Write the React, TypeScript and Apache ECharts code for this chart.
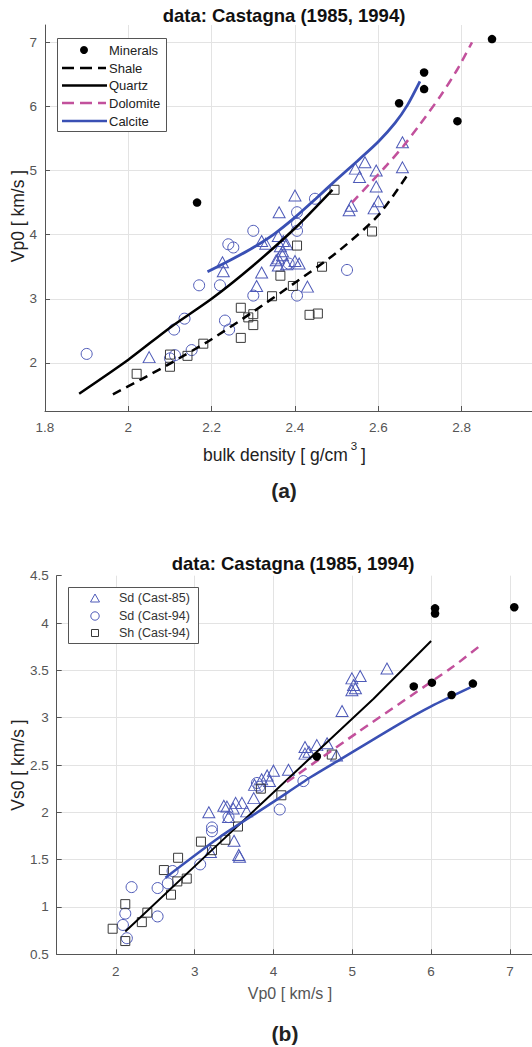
import React, { useEffect, useRef } from "react";
import * as echarts from "echarts";

const FONT = "'Liberation Sans', Arial, Helvetica, sans-serif";
const BLUE_LINE = "#3a50b4";
const BLUE_MARK = "#4e5ab8";
const MAGENTA = "#c2519c";
const SQUARE = "#3a3a3a";

// ---------- (a) Vp0 vs bulk density ----------
const xTicksA = [1.8, 2.0, 2.2, 2.4, 2.6, 2.8];
const yTicksA = [2, 3, 4, 5, 6, 7];

const mineralsA = [[2.165, 4.5], [2.65, 6.05], [2.71, 6.53], [2.71, 6.27], [2.79, 5.77], [2.873, 7.05]];

const sdCast85A = [
  [2.05, 2.09], [2.226, 3.57], [2.228, 3.43], [2.308, 3.2], [2.32, 3.41], [2.32, 3.9], [2.33, 3.86],
  [2.362, 4.35], [2.36, 3.98], [2.365, 3.82], [2.37, 3.68], [2.355, 3.6], [2.36, 3.52], [2.38, 3.54],
  [2.38, 3.85], [2.37, 3.74], [2.36, 3.63], [2.372, 3.9], [2.4, 4.61], [2.4, 3.59], [2.41, 3.55],
  [2.43, 3.19], [2.53, 4.38], [2.535, 4.45], [2.545, 5.03], [2.568, 5.13], [2.555, 4.9],
  [2.595, 5.0], [2.595, 4.75], [2.6, 4.52], [2.59, 4.41], [2.658, 5.44], [2.658, 5.05],
];

const sdCast94A = [
  [1.9, 2.14], [2.1, 2.07], [2.112, 2.12], [2.152, 2.2], [2.11, 2.52], [2.135, 2.69], [2.17, 3.21],
  [2.22, 3.21], [2.232, 2.66], [2.242, 2.52], [2.24, 3.85], [2.252, 3.8], [2.3, 4.06], [2.3, 3.05],
  [2.385, 3.55], [2.405, 4.35], [2.405, 4.17], [2.405, 4.06], [2.405, 3.05], [2.448, 4.56], [2.525, 3.45],
];

const shCast94A = [
  [2.02, 1.83], [2.1, 1.94], [2.1, 2.13], [2.142, 2.11], [2.18, 2.3], [2.27, 2.86], [2.27, 2.39],
  [2.288, 2.71], [2.3, 2.76], [2.3, 2.59], [2.345, 3.04], [2.365, 3.36], [2.395, 3.2], [2.405, 3.83],
  [2.435, 2.75], [2.455, 2.77], [2.465, 3.5], [2.495, 4.7], [2.585, 4.05],
];

const shaleA = [[1.963, 1.51], [2.03, 1.74], [2.1, 1.99], [2.2, 2.37], [2.3, 2.8], [2.4, 3.25], [2.5, 3.72], [2.6, 4.3], [2.675, 4.98]];
const quartzA = [[1.882, 1.52], [2.0, 2.05], [2.1, 2.55], [2.2, 3.0], [2.3, 3.52], [2.4, 4.1], [2.49, 4.7]];
const dolomiteA = [[2.537, 4.5], [2.58, 4.8], [2.62, 5.08], [2.66, 5.38], [2.7, 5.72], [2.75, 6.17], [2.79, 6.58], [2.825, 7.0]];
const calciteA = [[2.19, 3.42], [2.25, 3.62], [2.3, 3.8], [2.35, 4.01], [2.4, 4.27], [2.45, 4.56], [2.5, 4.86], [2.55, 5.15], [2.6, 5.45], [2.64, 5.74], [2.67, 6.02], [2.7, 6.39]];

// ---------- (b) Vs0 vs Vp0 ----------
const xTicksB = [2, 3, 4, 5, 6, 7];
const yTicksB = [0.5, 1, 1.5, 2, 2.5, 3, 3.5, 4, 4.5];

const mineralsB = [[4.55, 2.59], [5.78, 3.33], [6.01, 3.37], [6.26, 3.24], [6.53, 3.36], [6.05, 4.155], [6.05, 4.1], [7.055, 4.167]];

const sdCast85B = [
  [5.44, 3.52], [4.995, 3.415], [5.1, 3.44], [5.016, 3.345], [4.995, 3.29], [5.04, 3.31], [4.87, 3.07],
  [4.4, 2.69], [4.55, 2.71], [4.68, 2.73], [4.4, 2.62], [4.45, 2.64], [4.8, 2.6], [4.19, 2.45], [4.0, 2.44],
  [3.92, 2.39], [3.85, 2.35], [3.95, 2.33], [3.76, 2.29], [3.41, 2.06], [3.52, 2.1], [3.6, 2.1], [3.49, 2.04],
  [3.37, 2.07], [3.18, 2.0], [3.43, 1.95], [3.66, 2.01], [3.75, 2.15], [3.5, 1.7], [3.56, 1.55], [3.57, 1.53], [3.2, 1.58],
];

const sdCast94B = [
  [2.2, 1.21], [2.53, 1.2], [2.66, 1.25], [2.72, 1.38], [2.53, 0.9], [2.12, 0.93], [2.09, 0.81], [2.14, 0.67],
  [3.07, 1.45], [3.22, 1.84], [3.22, 1.8], [3.43, 1.95], [3.79, 2.31], [3.82, 2.27], [4.08, 2.03], [4.38, 2.33],
];

const shCast94B = [
  [1.96, 0.77], [2.12, 1.03], [2.12, 0.64], [2.33, 0.84], [2.4, 0.94], [2.7, 1.13], [2.78, 1.27], [2.79, 1.52],
  [2.9, 1.3], [2.61, 1.39], [3.08, 1.69], [3.22, 1.6], [3.39, 1.71], [3.55, 1.85], [3.84, 2.25], [4.1, 2.18], [4.74, 2.61],
];

const quartzB = [[2.12, 0.74], [3.32, 1.68], [4.5, 2.6], [5.27, 3.2], [6.0, 3.81]];
const dolomiteB = [[4.17, 2.32], [5.06, 2.84], [6.28, 3.54], [6.62, 3.76]];
const calciteB = [[2.63, 1.31], [3.32, 1.74], [4.0, 2.11], [4.47, 2.37], [4.85, 2.56], [5.61, 2.94], [6.0, 3.12], [6.5, 3.32]];

const axisCommon = {
  type: "value",
  axisLine: { show: true, onZero: false, lineStyle: { color: "#555", width: 1 } },
  axisTick: { show: true, inside: true, length: 5, lineStyle: { color: "#555" } },
  splitLine: { show: true, showMinLine: false, showMaxLine: false, lineStyle: { color: "#e3e3e3", width: 1 } },
};
const labelCommon = { color: "#555", fontSize: 13.5, fontFamily: FONT };

function scatter(data: number[][], g: number, symbol: string, size: any, color: string, z = 3) {
  return {
    type: "scatter",
    xAxisIndex: g,
    yAxisIndex: g,
    data,
    symbol,
    symbolSize: size,
    z,
    itemStyle: { color: "rgba(0,0,0,0)", borderColor: color, borderWidth: 1, opacity: 1 },
    emphasis: { disabled: true },
  };
}
function dots(data: number[][], g: number) {
  return {
    type: "scatter", xAxisIndex: g, yAxisIndex: g, data, symbol: "circle", symbolSize: 8.5, z: 6,
    itemStyle: { color: "#000", opacity: 1 }, emphasis: { disabled: true },
  };
}
function line(data: number[][], g: number, color: string, width: number, dashed: boolean, z = 4, smooth: any = 0.25) {
  return {
    type: "line", xAxisIndex: g, yAxisIndex: g, data, showSymbol: false, symbol: "none", z,
    smooth,
    lineStyle: { color, width, type: dashed ? [9, 6] : "solid", cap: "butt" },
    emphasis: { disabled: true },
  };
}

function txt(x: number, y: number, text: string, fontSize: number, fill: string, extra: any = {}) {
  return {
    type: "text", x, y, silent: true,
    style: { text, fontSize, fill, fontFamily: FONT, textAlign: "center", textVerticalAlign: "middle", ...extra },
  };
}

export default function App() {
  const ref = useRef<HTMLDivElement>(null);
  useEffect(() => {
    if (!ref.current) return;
    const chart = echarts.init(ref.current, null, { renderer: "svg" });
    const legendA = [
      { type: "rect", shape: { x: 57.5, y: 38.5, width: 109, height: 93 }, style: { fill: "#fff", stroke: "#555", lineWidth: 1 }, z: 100 },
      { type: "circle", shape: { cx: 84, cy: 50, r: 4 }, style: { fill: "#000" }, z: 101 },
      { type: "line", shape: { x1: 62, y1: 68, x2: 106, y2: 68 }, style: { stroke: "#000", lineWidth: 2.5, lineDash: [12, 6] }, z: 101 },
      { type: "line", shape: { x1: 62, y1: 85.5, x2: 107, y2: 85.5 }, style: { stroke: "#000", lineWidth: 2.5 }, z: 101 },
      { type: "line", shape: { x1: 62, y1: 103, x2: 106, y2: 103 }, style: { stroke: MAGENTA, lineWidth: 2.5, lineDash: [12, 6] }, z: 101 },
      { type: "line", shape: { x1: 62, y1: 121, x2: 107, y2: 121 }, style: { stroke: BLUE_LINE, lineWidth: 2.5 }, z: 101 },
      ...[["Minerals", 50], ["Shale", 68], ["Quartz", 85.5], ["Dolomite", 103], ["Calcite", 121]].map(([t, y]) => ({
        ...txt(109, y as number, t as string, 13, "#222", { textAlign: "left" }), z: 101,
      })),
    ];
    const legendB = [
      { type: "rect", shape: { x: 68.5, y: 587.5, width: 130, height: 56 }, style: { fill: "#fff", stroke: "#555", lineWidth: 1 }, z: 100 },
      { type: "polygon", shape: { points: [[90.5, 602], [99.5, 602], [95, 594]] }, style: { fill: "none", stroke: BLUE_MARK, lineWidth: 1 }, z: 101 },
      { type: "circle", shape: { cx: 95, cy: 616, r: 4.2 }, style: { fill: "none", stroke: BLUE_MARK, lineWidth: 1 }, z: 101 },
      { type: "rect", shape: { x: 91.5, y: 629.5, width: 7, height: 7 }, style: { fill: "none", stroke: SQUARE, lineWidth: 1 }, z: 101 },
      ...[["Sd (Cast-85)", 598], ["Sd (Cast-94)", 616], ["Sh (Cast-94)", 633]].map(([t, y]) => ({
        ...txt(119, y as number, t as string, 12.5, "#333", { textAlign: "left" }), z: 101,
      })),
    ];
    const option: any = {
      animation: false,
      textStyle: { fontFamily: FONT },
      grid: [
        { left: 45, top: 25, width: 487, height: 386 },
        { left: 56.7, top: 575.7, width: 475.3, height: 378.6 },
      ],
      xAxis: [
        { ...axisCommon, gridIndex: 0, min: xTicksA[0], max: 2.969, interval: 0.2,
          axisLabel: { ...labelCommon, margin: 9, showMinLabel: true, showMaxLabel: false } },
        { ...axisCommon, gridIndex: 1, min: 1.25, max: 7.28, minInterval: 1, maxInterval: 1,
          axisLabel: { ...labelCommon, margin: 10, showMinLabel: false, showMaxLabel: false } },
      ],
      yAxis: [
        { ...axisCommon, gridIndex: 0, min: 1.25, max: 7.27, minInterval: 1, maxInterval: 1,
          axisLabel: { ...labelCommon, margin: 8, showMinLabel: false, showMaxLabel: false } },
        { ...axisCommon, gridIndex: 1, min: yTicksB[0], max: yTicksB[yTicksB.length - 1], interval: 0.5,
          axisLabel: { ...labelCommon, margin: 8, showMinLabel: true, showMaxLabel: true } },
      ],
      series: [
        scatter(sdCast85A, 0, "triangle", [12, 11], BLUE_MARK),
        scatter(sdCast94A, 0, "circle", 11, BLUE_MARK),
        scatter(shCast94A, 0, "rect", 9, SQUARE),
        line(shaleA, 0, "#000", 2.5, true),
        line(quartzA, 0, "#000", 2.5, false),
        line(dolomiteA, 0, MAGENTA, 2.5, true),
        line(calciteA, 0, BLUE_LINE, 2.8, false, 5),
        dots(mineralsA, 0),
        scatter(sdCast85B, 1, "triangle", [12, 11], BLUE_MARK),
        scatter(sdCast94B, 1, "circle", 11, BLUE_MARK),
        scatter(shCast94B, 1, "rect", 9, SQUARE),
        line(quartzB, 1, "#000", 2, false, 4, false),
        line(dolomiteB, 1, MAGENTA, 2.5, true, 4, 0.25),
        line(calciteB, 1, BLUE_LINE, 2.5, false, 4, 0.25),
        dots(mineralsB, 1),
      ],
      graphic: [
        txt(284, 15, "data: Castagna (1985, 1994)", 18.5, "#111", { fontWeight: "bold" }),
        { ...txt(18, 216, "Vp0 [ km/s ]", 17.5, "#222"), rotation: Math.PI / 2 },
        txt(203, 455, "bulk density [ g/cm", 17.5, "#222", { textAlign: "left" }),
        txt(354, 446, "3", 11.5, "#222"),
        txt(361, 455, "]", 17.5, "#222", { textAlign: "left" }),
        txt(284, 490, "(a)", 21, "#222", { fontWeight: "bold" }),
        ...legendA,
        txt(293, 563, "data: Castagna (1985, 1994)", 18.5, "#111", { fontWeight: "bold" }),
        { ...txt(18, 765, "Vs0 [ km/s ]", 17.5, "#222"), rotation: Math.PI / 2 },
        txt(290, 993, "Vp0 [ km/s ]", 16, "#555"),
        txt(285, 1033, "(b)", 21, "#222", { fontWeight: "bold" }),
        ...legendB,
      ],
    };
    chart.setOption(option);
    return () => chart.dispose();
  }, []);
  return (
    <div style={{ position: "fixed", left: 0, top: 0, width: 532, height: 1047, overflow: "hidden", background: "#fff" }}>
      <div ref={ref} style={{ width: 532, height: 1047 }} />
    </div>
  );
}
